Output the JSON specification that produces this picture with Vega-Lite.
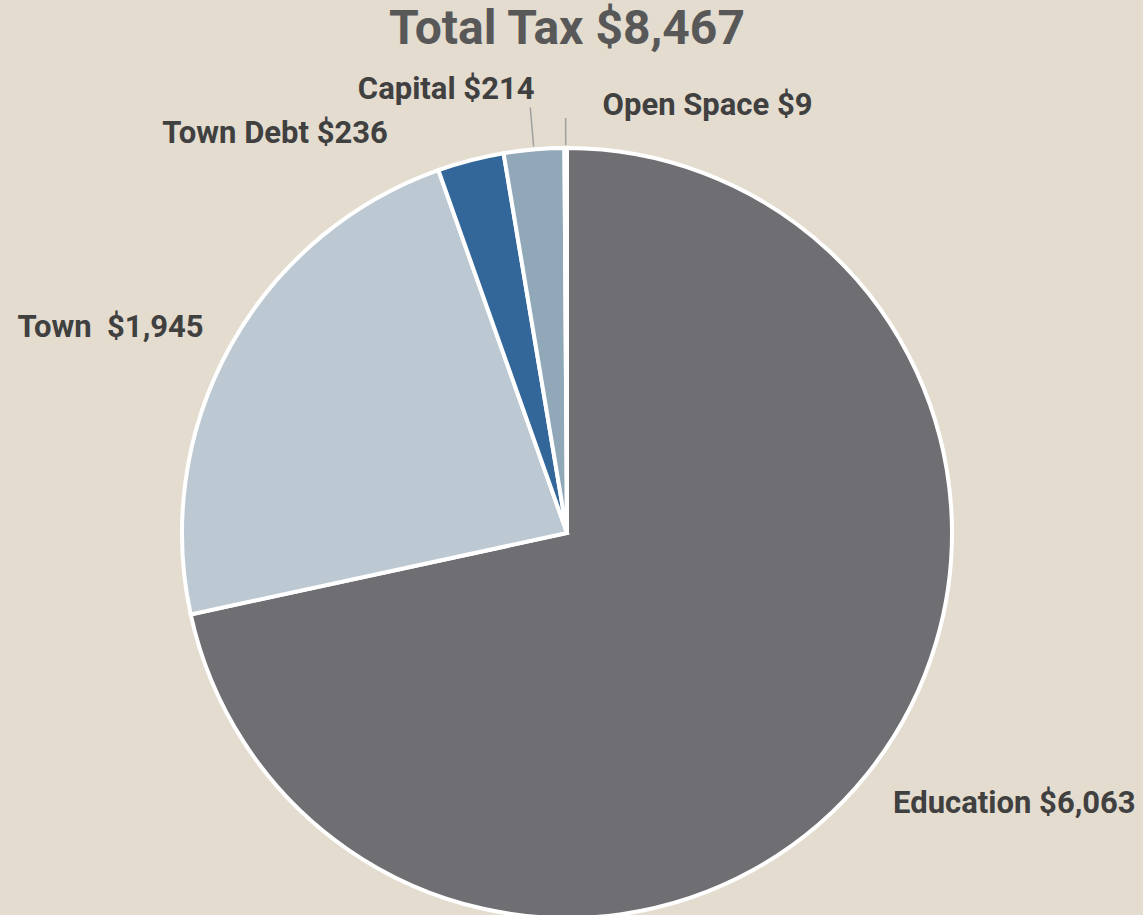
{
  "$schema": "https://vega.github.io/schema/vega-lite/v6.json",
  "autosize": {"type": "none"},
  "width": 1134,
  "height": 764,
  "padding": {"top": 151, "left": 0, "right": 9, "bottom": 0},
  "background": "#e3dccf",
  "config": {"view": {"stroke": null}},
  "title": {
    "text": "Total Tax $8,467",
    "font": "Roboto, sans-serif",
    "fontSize": 48,
    "fontWeight": "bold",
    "color": "#585858",
    "anchor": "middle",
    "frame": "group",
    "baseline": "alphabetic",
    "offset": -20
  },
  "data": {
    "values": [
      {"rank": 1, "cat": "Education", "label": "Education $6,063", "value": 6063},
      {"rank": 2, "cat": "Town", "label": "Town\u00a0 $1,945", "value": 1945},
      {"rank": 3, "cat": "Town Debt", "label": "Town Debt $236", "value": 236},
      {"rank": 4, "cat": "Capital", "label": "Capital $214", "value": 214},
      {"rank": 5, "cat": "Open Space", "label": "Open Space $9", "value": 9}
    ]
  },
  "encoding": {
    "theta": {"field": "value", "type": "quantitative", "stack": true},
    "order": {"field": "rank", "type": "ordinal"}
  },
  "layer": [
    {
      "mark": {"type": "arc", "outerRadius": 385, "stroke": "white", "strokeWidth": 4},
      "encoding": {
        "color": {
          "field": "cat",
          "type": "nominal",
          "scale": {
            "domain": ["Education", "Town", "Town Debt", "Capital", "Open Space"],
            "range": ["#6f6e73", "#bdc9d2", "#336699", "#91a8b9", "#e9e9e9"]
          },
          "legend": null
        }
      }
    },
    {
      "mark": {"type": "arc", "padAngle": 3, "fill": null, "stroke": "#a0a0a0", "strokeWidth": 1.5},
      "encoding": {
        "radius": {"value": 388},
        "radius2": {"value": 427},
        "strokeOpacity": {"condition": {"test": "datum.cat === 'Capital'", "value": 1}, "value": 0}
      }
    },
    {
      "mark": {"type": "arc", "padAngle": 3, "fill": null, "stroke": "#a0a0a0", "strokeWidth": 1.5},
      "encoding": {
        "radius": {"value": 388},
        "radius2": {"value": 415},
        "strokeOpacity": {"condition": {"test": "datum.cat === 'Open Space'", "value": 1}, "value": 0}
      }
    },
    {
      "mark": {"type": "text", "align": "left", "baseline": "alphabetic", "dx": 0, "dy": 17, "font": "Roboto, sans-serif", "fontSize": 31, "fontWeight": "bold", "fill": "#404040"},
      "encoding": {
        "radius": {"value": 419},
        "text": {"condition": {"test": "datum.cat === 'Education'", "field": "label"}, "value": ""}
      }
    },
    {
      "mark": {"type": "text", "align": "right", "baseline": "alphabetic", "dx": 0, "dy": 7, "font": "Roboto, sans-serif", "fontSize": 31, "fontWeight": "bold", "fill": "#404040"},
      "encoding": {
        "radius": {"value": 416},
        "text": {"condition": {"test": "datum.cat === 'Town'", "field": "label"}, "value": ""}
      }
    },
    {
      "mark": {"type": "text", "align": "right", "baseline": "alphabetic", "dx": -79, "dy": -3, "font": "Roboto, sans-serif", "fontSize": 31, "fontWeight": "bold", "fill": "#404040"},
      "encoding": {
        "radius": {"value": 400},
        "text": {"condition": {"test": "datum.cat === 'Town Debt'", "field": "label"}, "value": ""}
      }
    },
    {
      "mark": {"type": "text", "align": "right", "baseline": "alphabetic", "dx": 5, "dy": 0, "font": "Roboto, sans-serif", "fontSize": 31, "fontWeight": "bold", "fill": "#404040"},
      "encoding": {
        "radius": {"value": 436},
        "text": {"condition": {"test": "datum.cat === 'Capital'", "field": "label"}, "value": ""}
      }
    },
    {
      "mark": {"type": "text", "align": "left", "baseline": "alphabetic", "dx": 37, "dy": 0, "font": "Roboto, sans-serif", "fontSize": 31, "fontWeight": "bold", "fill": "#404040"},
      "encoding": {
        "radius": {"value": 418},
        "text": {"condition": {"test": "datum.cat === 'Open Space'", "field": "label"}, "value": ""}
      }
    }
  ]
}
